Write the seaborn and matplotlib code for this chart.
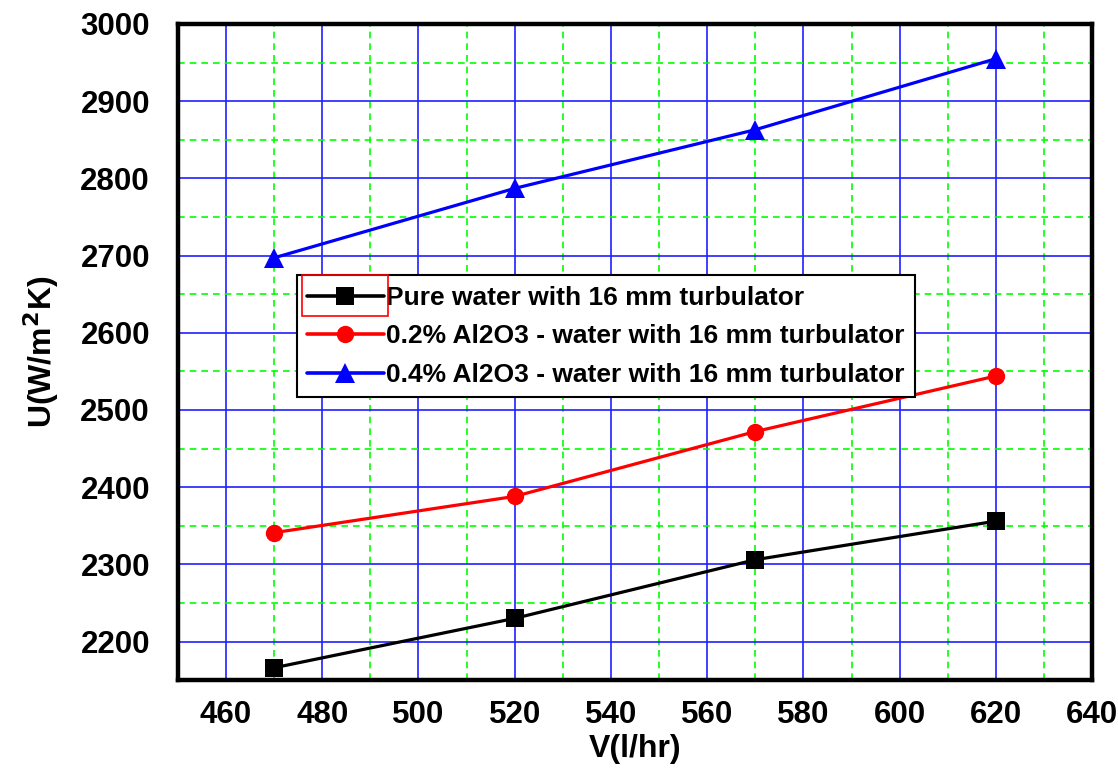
import matplotlib
matplotlib.use("Agg")
import matplotlib.pyplot as plt
from matplotlib.ticker import MultipleLocator
from matplotlib.patches import Rectangle
import seaborn as sns
import pandas as pd

flow = [470, 520, 570, 620]
pure_water = [2166, 2230, 2306, 2356]
al2o3_02 = [2341, 2388, 2472, 2544]
al2o3_04 = [2697, 2787, 2863, 2955]
series_names = [
    "Pure water with 16 mm turbulator",
    "0.2% Al2O3 - water with 16 mm turbulator",
    "0.4% Al2O3 - water with 16 mm turbulator",
]

df = pd.DataFrame({
    "V": flow * 3,
    "U": pure_water + al2o3_02 + al2o3_04,
    "series": [series_names[0]] * 4 + [series_names[1]] * 4 + [series_names[2]] * 4,
})

sns.set_style("white")
plt.rcParams["font.family"] = ["Liberation Sans", "DejaVu Sans"]
plt.rcParams["font.weight"] = "bold"
plt.rcParams["mathtext.default"] = "bf"
for key in ["text.color", "axes.labelcolor", "xtick.color", "ytick.color"]:
    plt.rcParams[key] = "black"

fig = plt.figure(figsize=(11.18, 7.72), dpi=100)
ax = fig.add_axes([0.159, 0.119, 0.818, 0.850])

sns.lineplot(
    data=df, x="V", y="U", hue="series", style="series",
    palette=["black", "red", "blue"], markers=["s", "o", "^"], dashes=False,
    linewidth=2.3, markersize=12.5, markeredgewidth=0, ax=ax, zorder=5,
)
# triangles read a little larger than the squares and circles
ax.lines[2].set_markersize(15)

ax.set_xlim(450, 640)
ax.set_ylim(2150, 3000)
ax.xaxis.set_major_locator(MultipleLocator(20))
ax.xaxis.set_minor_locator(MultipleLocator(10))
ax.yaxis.set_major_locator(MultipleLocator(100))
ax.yaxis.set_minor_locator(MultipleLocator(50))
ax.grid(which="major", color="#2020ff", linestyle="-", linewidth=1.2)
ax.grid(which="minor", color="#00ff00", linestyle=(0, (4, 3)), linewidth=1.2)
ax.set_axisbelow(True)
ax.tick_params(which="both", length=0, labelsize=22.5)
ax.tick_params(axis="x", pad=14)
ax.tick_params(axis="y", pad=20)
for lab in ax.get_xticklabels() + ax.get_yticklabels():
    lab.set_fontweight("bold")
for sp in ax.spines.values():
    sp.set_color("black")
    sp.set_linewidth(3.2)

ax.set_xlabel("V(l/hr)", fontsize=23, fontweight="bold", labelpad=3)
ax.set_ylabel(r"U(W/m$^\mathbf{2}$K)", fontsize=23, fontweight="bold", labelpad=14)

leg = ax.legend(
    loc="upper left", bbox_to_anchor=(0.13, 0.617), fontsize=19,
    frameon=True, fancybox=False, edgecolor="black", framealpha=1,
    handlelength=2.9, handletextpad=0.08, borderpad=0.4, labelspacing=0.55,
    borderaxespad=0,
)
leg.get_frame().set_linewidth(1.5)
for t in leg.get_texts():
    t.set_fontweight("bold")
for hl in leg.legend_handles:
    hl.set_linewidth(2.6)
leg.legend_handles[2].set_markersize(15)

# Red selection box around the first legend handle
fig.canvas.draw()
h = leg.legend_handles[0]
bb = h.get_window_extent(fig.canvas.get_renderer())
inv = fig.transFigure.inverted()
(x0, y0), (x1, y1) = inv.transform([[bb.x0 + 3, bb.y0 - 12], [bb.x1 - 4, bb.y1 + 12]])
fig.patches.append(Rectangle((x0, y0), x1 - x0, y1 - y0, transform=fig.transFigure,
                             fill=False, edgecolor="red", linewidth=1.2, zorder=10))

fig.savefig("out.png", dpi=100)
